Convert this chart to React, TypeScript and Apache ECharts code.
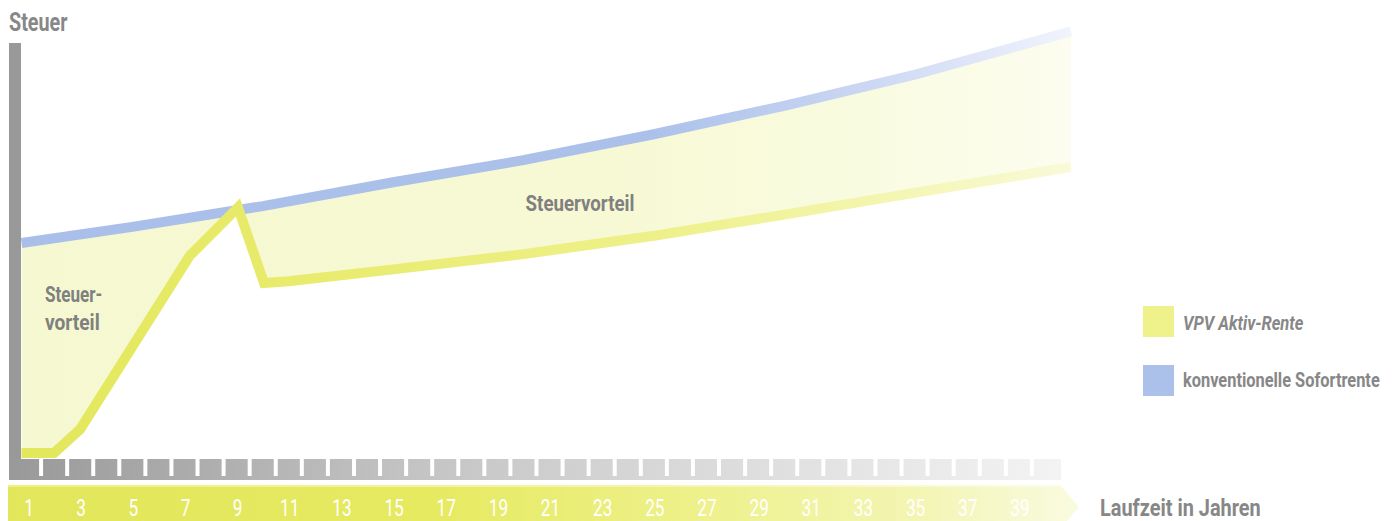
import React, { useEffect, useRef } from 'react';
import * as echarts from 'echarts';

// ---------- data ----------
const yearLabels = [
  '1', '2', '3', '4', '5', '6', '7', '8', '9', '10',
  '11', '12', '13', '14', '15', '16', '17', '18', '19', '20',
  '21', '22', '23', '24', '25', '26', '27', '28', '29', '30',
  '31', '32', '33', '34', '35', '36', '37', '38', '39', '40',
];

// VPV Aktiv-Rente (yellow) – x in years, y in relative tax units
const vpvYears = [0.75, 2, 3, 7.2, 9.05, 10.05, 11, 15, 20, 25, 30, 35, 41];
const vpvValues = [0, 0, 5.6, 46.4, 57.8, 40, 40.4, 43.2, 46.8, 51.1, 56.1, 61.2, 67.3];

// konventionelle Sofortrente (blue)
const convYears = [0.75, 5, 10, 15, 20, 25, 30, 35, 41];
const convValues = [49.4, 53.2, 58.1, 63.7, 68.9, 75.0, 81.7, 89.0, 99.2];

const seriesNames = ['VPV Aktiv-Rente', 'konventionelle Sofortrente'];
const legendColors = ['#eff28a', '#abc1ea'];

// ---------- style ----------
const FONT = 'Roboto, sans-serif';
const TEXT_GRAY = '#878787';

const lg = (stops: [number, string][]) =>
  new echarts.graphic.LinearGradient(0, 0, 1, 0, stops.map(([offset, color]) => ({ offset, color })));

const ctext = (
  text: string,
  x: number,
  y: number,
  size: number,
  sx: number,
  opts: { align?: string; weight?: string; italic?: boolean; fill?: string } = {}
) => ({
  type: 'text',
  z: 100,
  x,
  y,
  scaleX: sx,
  style: {
    text,
    x: 0,
    y: 0,
    fill: opts.fill ?? TEXT_GRAY,
    font: `${opts.italic ? 'italic ' : ''}${opts.weight ?? 'bold'} ${size}px ${FONT}`,
    textAlign: opts.align ?? 'left',
    align: opts.align ?? 'left',
    textVerticalAlign: 'middle',
    verticalAlign: 'middle',
  },
});

export default function App() {
  const ref = useRef<HTMLDivElement>(null);

  useEffect(() => {
    if (!ref.current) return;
    const chart = echarts.init(ref.current, null, { renderer: 'svg' });

    const vpvData = vpvYears.map((x, i) => [x, vpvValues[i]]);
    const convData = convYears.map((x, i) => [x, convValues[i]]);
    const notchData = yearLabels.slice(1).map((_, i) => [i + 1, 0]);
    const labelData = yearLabels.map((_, i) => [i, 0]).filter((_, i) => i % 2 === 0);

    const option: any = {
      animation: false,
      backgroundColor: '#ffffff',
      grid: [
        { left: 15, right: 321, top: 28, bottom: 68 },
        { left: 15, right: 334, top: 459, height: 21 },
      ],
      xAxis: [
        { type: 'value', gridIndex: 0, min: 0.5, max: 41, show: false },
        {
          type: 'category',
          gridIndex: 1,
          data: yearLabels,
          boundaryGap: true,
          axisLine: { show: false },
          axisTick: { show: false },
          splitLine: { show: false },
          axisLabel: { show: false },
        },
      ],
      yAxis: [
        { type: 'value', gridIndex: 0, min: 0, max: 100, show: false },
        { type: 'value', gridIndex: 1, min: 0, max: 1, show: false },
      ],
      series: [
        {
          // Steuervorteil area between the two curves
          type: 'custom',
          xAxisIndex: 0,
          yAxisIndex: 0,
          silent: true,
          z: 1,
          data: [[0, 0]],
          renderItem: (_params: any, api: any) => {
            const pts: number[][] = [];
            vpvYears.forEach((x, i) => pts.push(api.coord([x, vpvValues[i]])));
            for (let i = convYears.length - 1; i >= 0; i--) pts.push(api.coord([convYears[i], convValues[i]]));
            return {
              type: 'polygon',
              shape: { points: pts },
              style: {
                fill: lg([
                  [0, '#f6f8d1'],
                  [0.55, '#f7f9d4'],
                  [0.8, '#f9fbe0'],
                  [1, '#fcfdef'],
                ]),
              },
            };
          },
        },
        {
          name: seriesNames[1],
          type: 'line',
          xAxisIndex: 0,
          yAxisIndex: 0,
          data: convData,
          symbol: 'none',
          z: 3,
          lineStyle: {
            width: 10,
            cap: 'butt',
            join: 'miter',
            color: lg([
              [0, '#a9bfe9'],
              [0.6, '#acc1ea'],
              [0.8, '#cad6f3'],
              [1, '#f1f4fc'],
            ]),
          },
        },
        {
          name: seriesNames[0],
          type: 'line',
          xAxisIndex: 0,
          yAxisIndex: 0,
          data: vpvData,
          symbol: 'none',
          z: 4,
          lineStyle: {
            width: 10,
            cap: 'butt',
            join: 'miter',
            color: lg([
              [0, '#e3e75b'],
              [0.25, '#e8eb6b'],
              [0.62, '#eef18b'],
              [0.8, '#f3f5ac'],
              [1, '#f9fad9'],
            ]),
          },
        },
        {
          // white notches between the year cells
          type: 'custom',
          xAxisIndex: 1,
          yAxisIndex: 1,
          silent: true,
          z: 5,
          data: notchData,
          renderItem: (params: any, api: any) => {
            const cs = params.coordSys;
            const c = api.coord([api.value(0), 0]);
            const bw = api.size([1, 0])[0];
            const x = c[0] - bw / 2;
            return {
              type: 'rect',
              shape: { x: x - 2, y: cs.y, width: 4, height: cs.height - 4 },
              style: { fill: '#ffffff' },
            };
          },
        },
        {
          // year numbers (odd years) in the yellow time band
          type: 'custom',
          xAxisIndex: 1,
          yAxisIndex: 1,
          silent: true,
          z: 6,
          data: labelData,
          renderItem: (params: any, api: any) => {
            const cs = params.coordSys;
            const idx = api.value(0);
            const c = api.coord([idx, 0]);
            return {
              type: 'text',
              x: c[0] + 1,
              y: cs.y + cs.height + 28,
              scaleX: 0.72,
              style: {
                text: yearLabels[idx],
                fill: '#ffffff',
                font: `normal 24px ${FONT}`,
                textAlign: 'center',
                align: 'center',
                textVerticalAlign: 'middle',
                verticalAlign: 'middle',
              },
            };
          },
        },
      ],
      graphic: [
        {
          type: 'rect',
          z: 0,
          shape: { x: 9, y: 43, width: 12, height: 437 },
          style: { fill: '#999999' },
        },
        {
          type: 'rect',
          z: 0,
          shape: { x: 9, y: 459, width: 1052, height: 21 },
          style: {
            fill: lg([
              [0, '#999999'],
              [0.37, '#c2c2c2'],
              [0.6, '#d6d6d6'],
              [0.85, '#e8e8e8'],
              [1, '#f3f3f3'],
            ]),
          },
        },
        {
          type: 'polygon',
          z: 0,
          shape: { points: [[8, 485], [1060, 485], [1079, 507], [1060, 529], [8, 529]] },
          style: {
            fill: lg([
              [0, '#e2e65a'],
              [0.4, '#e6ea61'],
              [0.65, '#eef18c'],
              [0.85, '#f3f5b3'],
              [1, '#f9fbe0'],
            ]),
          },
        },
        {
          type: 'polygon',
          z: 0,
          shape: { points: [[8, 485], [1060, 485], [1062, 487], [8, 487]] },
          style: {
            fill: lg([
              [0, '#eef27f'],
              [0.6, '#f3f5ad'],
              [1, '#fbfce9'],
            ]),
          },
        },
        // legend
        {
          type: 'rect',
          z: 50,
          shape: { x: 1143, y: 306, width: 31, height: 31 },
          style: { fill: legendColors[0] },
        },
        {
          type: 'rect',
          z: 50,
          shape: { x: 1143, y: 365, width: 31, height: 31 },
          style: { fill: legendColors[1] },
        },
        ctext(seriesNames[0], 1183, 322.5, 21, 0.785, { italic: true }),
        ctext(seriesNames[1], 1183, 380.5, 21, 0.78),
        // titles and annotations
        ctext('Steuer', 9, 22.5, 26, 0.76),
        ctext('Steuervorteil', 580, 203, 22.5, 0.83, { align: 'center', fill: '#808080' }),
        ctext('Steuer-', 45, 294, 22.5, 0.76, { fill: '#808080' }),
        ctext('vorteil', 45, 322, 22.5, 0.85, { fill: '#808080' }),
        ctext('Laufzeit in Jahren', 1100, 508, 24, 0.83),
      ],
    };

    chart.setOption(option);
    return () => chart.dispose();
  }, []);

  return (
    <div
      ref={ref}
      style={{ position: 'fixed', left: 0, top: 0, width: 1392, height: 521, background: '#ffffff' }}
    />
  );
}
